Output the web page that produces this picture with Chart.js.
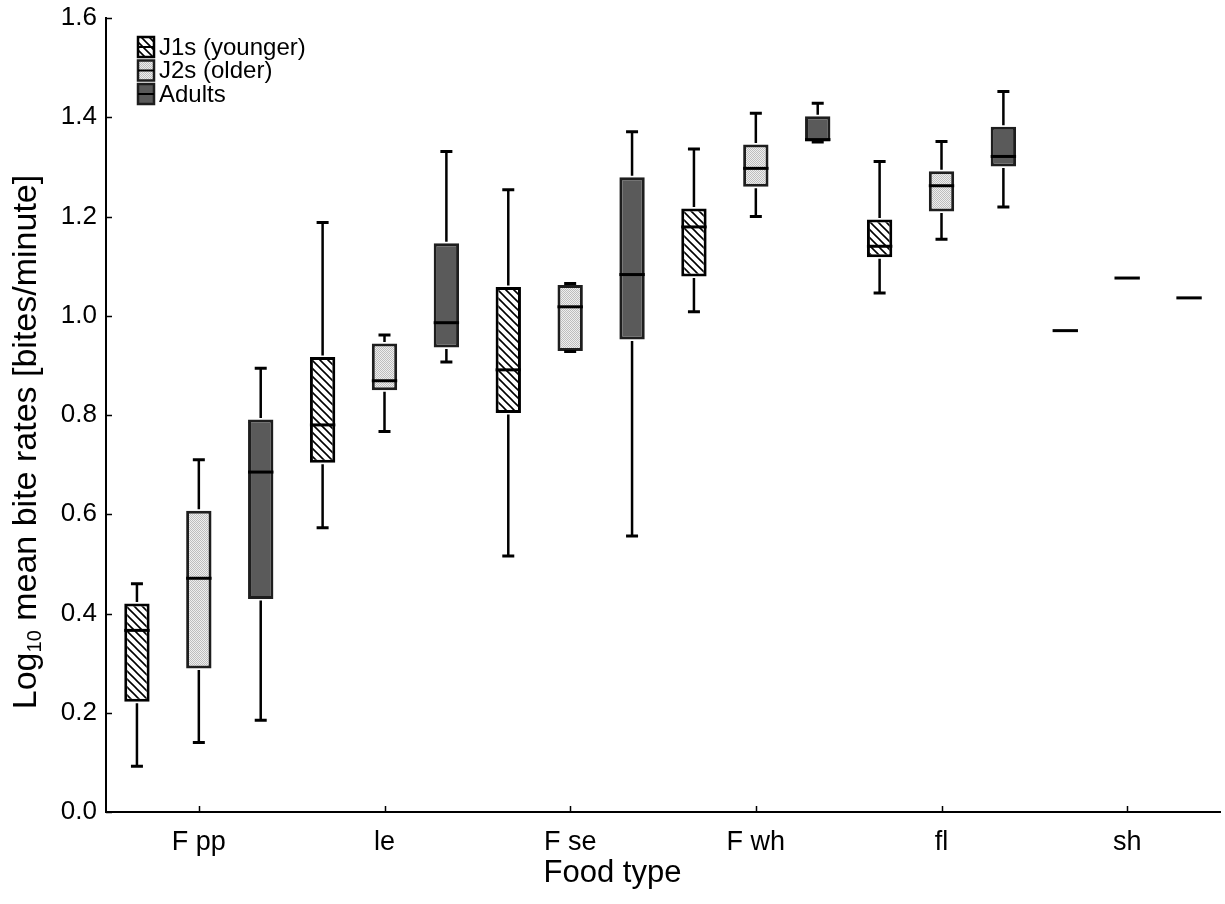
<!DOCTYPE html>
<html>
<head>
<meta charset="utf-8">
<script src="https://cdn.jsdelivr.net/npm/chart.js@4.4.1/dist/chart.umd.min.js"></script>
<style>
  html, body { margin: 0; padding: 0; background: #fff; }
  #wrap { width: 1225px; height: 904px; }
</style>
</head>
<body>
<div id="wrap"><canvas id="chart" width="1225" height="904"></canvas></div>
<script>
// Food types on the x axis
const categories = ['F pp', 'le', 'F se', 'F wh', 'fl', 'sh'];
const groupLabels = ['J1s (younger)', 'J2s (older)', 'Adults'];
const yTicks = [0, 0.2, 0.4, 0.6, 0.8, 1.0, 1.2, 1.4, 1.6];

// Log10 mean bite rates: whisker ends, quartiles and medians per group
const j1sMin = [0.092, 0.573, 0.516, 1.008, 1.046, 0.970];
const j1sQ1  = [0.222, 0.704, 0.804, 1.079, 1.118, 0.970];
const j1sMed = [0.366, 0.780, 0.891, 1.179, 1.140, 0.970];
const j1sQ3  = [0.420, 0.917, 1.058, 1.216, 1.194, 0.970];
const j1sMax = [0.460, 1.188, 1.254, 1.336, 1.311, 0.970];

const j2sMin = [0.140, 0.767, 0.928, 1.200, 1.154, 1.076];
const j2sQ1  = [0.289, 0.850, 0.929, 1.260, 1.210, 1.076];
const j2sMed = [0.471, 0.869, 1.018, 1.297, 1.262, 1.076];
const j2sQ3  = [0.607, 0.944, 1.062, 1.345, 1.291, 1.076];
const j2sMax = [0.710, 0.961, 1.065, 1.408, 1.351, 1.076];

const adMin = [0.185, 0.907, 0.556, 1.350, 1.219, 1.036];
const adQ1  = [0.429, 0.936, 0.952, 1.351, 1.301, 1.036];
const adMed = [0.685, 0.986, 1.083, 1.355, 1.321, 1.036];
const adQ3  = [0.791, 1.146, 1.279, 1.402, 1.381, 1.036];
const adMax = [0.894, 1.331, 1.371, 1.428, 1.452, 1.036];

const FONT = '"Liberation Sans", Arial, Helvetica, sans-serif';
const canvas = document.getElementById('chart');
const ctx = canvas.getContext('2d');

// Fill patterns for the three groups
function hatchPattern() {
  const c = document.createElement('canvas');
  c.width = 8; c.height = 8;
  const g = c.getContext('2d');
  g.fillStyle = '#ffffff';
  g.fillRect(0, 0, 8, 8);
  g.strokeStyle = '#000000';
  g.lineWidth = 1.6;
  g.beginPath();
  g.moveTo(-2, -2); g.lineTo(10, 10);
  g.moveTo(-2, 6); g.lineTo(2, 10);
  g.moveTo(6, -2); g.lineTo(10, 2);
  g.stroke();
  return ctx.createPattern(c, 'repeat');
}
function stipplePattern() {
  const c = document.createElement('canvas');
  c.width = 2; c.height = 2;
  const g = c.getContext('2d');
  g.fillStyle = '#eeeeee';
  g.fillRect(0, 0, 2, 2);
  g.fillStyle = '#bdbdbd';
  g.fillRect(0, 0, 1, 1);
  g.fillRect(1, 1, 1, 1);
  return ctx.createPattern(c, 'repeat');
}

const fills = [hatchPattern(), stipplePattern(), '#5a5a5a'];
const borders = ['#000000', '#1e1e1e', '#1e1e1e'];

const stats = [
  { min: j1sMin, q1: j1sQ1, med: j1sMed, q3: j1sQ3, max: j1sMax },
  { min: j2sMin, q1: j2sQ1, med: j2sMed, q3: j2sQ3, max: j2sMax },
  { min: adMin,  q1: adQ1,  med: adMed,  q3: adQ3,  max: adMax }
];

const datasets = stats.map((s, k) => ({
  label: groupLabels[k],
  data: categories.map((_, i) => [s.q1[i], s.q3[i]]),
  backgroundColor: fills[k],
  borderColor: borders[k],
  borderWidth: 3,
  borderSkipped: false,
  categoryPercentage: 1.0,
  barPercentage: 0.41
}));

// Whiskers, caps and median lines on top of the boxes
const boxDetails = {
  id: 'boxDetails',
  afterDatasetsDraw(chart) {
    const c = chart.ctx;
    const y = chart.scales.y;
    c.save();
    c.strokeStyle = '#000';
    c.lineCap = 'butt';
    stats.forEach((s, k) => {
      const meta = chart.getDatasetMeta(k);
      meta.data.forEach((bar, i) => {
        const x = bar.x;
        const half = bar.width / 2;
        const pMin = y.getPixelForValue(s.min[i]);
        const pQ1 = y.getPixelForValue(s.q1[i]);
        const pQ3 = y.getPixelForValue(s.q3[i]);
        const pMax = y.getPixelForValue(s.max[i]);
        const pMed = y.getPixelForValue(s.med[i]);
        c.lineWidth = 2.5;
        c.beginPath();
        if (pMax < pQ3 - 1) {
          c.moveTo(x, pQ3 - 1.5); c.lineTo(x, pMax);
        }
        if (pMin > pQ1 + 1) {
          c.moveTo(x, pQ1 + 1.5); c.lineTo(x, pMin);
        }
        c.stroke();
        if (s.max[i] !== s.q3[i] || s.min[i] !== s.q1[i]) {
          c.lineWidth = 3;
          c.beginPath();
          c.moveTo(x - 6, pMax); c.lineTo(x + 6, pMax);
          c.moveTo(x - 6, pMin); c.lineTo(x + 6, pMin);
          c.stroke();
        }
        c.lineWidth = 3;
        c.beginPath();
        c.moveTo(x - half, pMed); c.lineTo(x + half, pMed);
        c.stroke();
      });
    });
    c.restore();
  }
};

// Inward tick marks, axis titles and legend
const frame = {
  id: 'frame',
  afterDraw(chart) {
    const c = chart.ctx;
    const xs = chart.scales.x;
    const ys = chart.scales.y;
    const area = chart.chartArea;
    c.save();
    c.strokeStyle = '#000';
    c.lineWidth = 1.5;
    c.beginPath();
    xs.ticks.forEach((t, i) => {
      const px = Math.round(xs.getPixelForTick(i)) + 0.5;
      c.moveTo(px, area.bottom);
      c.lineTo(px, area.bottom - 6);
    });
    ys.ticks.forEach((t) => {
      const py = Math.round(ys.getPixelForValue(t.value)) + 0.5;
      c.moveTo(area.left, py);
      c.lineTo(area.left + 6, py);
    });
    c.stroke();

    // x-axis title, centred on the figure
    c.fillStyle = '#000';
    c.textAlign = 'center';
    c.textBaseline = 'middle';
    c.font = '31px ' + FONT;
    c.fillText('Food type', chart.width / 2, 873);

    // y-axis title with subscript
    c.textAlign = 'left';
    const big = '34px ' + FONT;
    const small = '20px ' + FONT;
    const p1 = 'Log', p2 = '10', p3 = ' mean bite rates [bites/minute]';
    c.font = big;
    const w1 = c.measureText(p1).width;
    const w3 = c.measureText(p3).width;
    c.font = small;
    const w2 = c.measureText(p2).width;
    const total = w1 + w2 + w3;
    c.translate(27, 442);
    c.rotate(-Math.PI / 2);
    let cx = -total / 2;
    c.font = big; c.fillText(p1, cx, 0); cx += w1;
    c.font = small; c.fillText(p2, cx, 8); cx += w2;
    c.font = big; c.fillText(p3, cx, 0);
    c.restore();

    // legend
    c.save();
    const lx = 138, ly = 37, rowH = 23.5, bw = 16, bh = 20;
    c.font = '24px ' + FONT;
    c.textBaseline = 'middle';
    c.textAlign = 'left';
    groupLabels.forEach((label, k) => {
      const top = ly + k * rowH;
      c.fillStyle = fills[k];
      c.fillRect(lx, top, bw, bh);
      c.strokeStyle = borders[k];
      c.lineWidth = 2.5;
      c.strokeRect(lx, top, bw, bh);
      c.strokeStyle = '#000';
      c.lineWidth = 2;
      c.beginPath();
      c.moveTo(lx, top + bh / 2); c.lineTo(lx + bw, top + bh / 2);
      c.stroke();
      c.fillStyle = '#000';
      c.fillText(label, lx + bw + 5, top + bh / 2 + 1);
    });
    c.restore();
  }
};

new Chart(canvas, {
  type: 'bar',
  data: { labels: categories, datasets },
  options: {
    responsive: false,
    animation: false,
    devicePixelRatio: 1,
    layout: { autoPadding: false, padding: { top: 18, right: 5, left: 0, bottom: 0 } },
    plugins: { legend: { display: false }, tooltip: { enabled: false } },
    scales: {
      x: {
        grid: { display: false, drawTicks: false },
        border: { display: true, color: '#000', width: 2 },
        ticks: { color: '#000', font: { family: FONT, size: 27 }, padding: 14, maxRotation: 0 },
        afterFit(s) {
          s.height = 92;
          s.paddingLeft = 0; s.paddingRight = 0;
        }
      },
      y: {
        min: 0, max: 1.6,
        grid: { display: false, drawTicks: false },
        border: { display: true, color: '#000', width: 2 },
        afterBuildTicks(s) { s.ticks = yTicks.map(v => ({ value: v })); },
        ticks: { color: '#000', font: { family: FONT, size: 26 }, padding: 9, callback: v => Number(v).toFixed(1) },
        afterFit(s) {
          s.width = 106;
          s.paddingTop = 0; s.paddingBottom = 0;
        }
      }
    }
  },
  plugins: [boxDetails, frame]
});
</script>
</body>
</html>
